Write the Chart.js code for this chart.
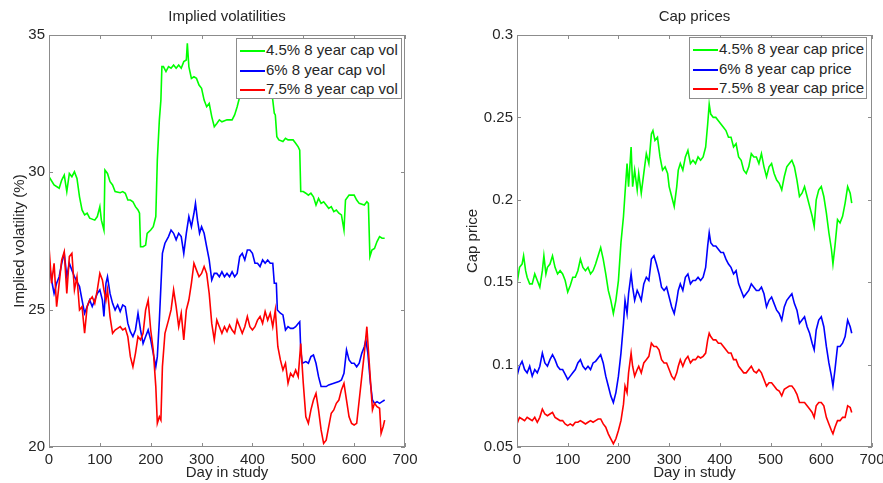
<!DOCTYPE html>
<html>
<head>
<meta charset="utf-8">
<title>Implied volatilities and cap prices</title>
<script src="https://cdn.jsdelivr.net/npm/chart.js@4.4.0/dist/chart.umd.min.js"></script>
<style>
    body { margin: 0; background: #fff; }
    #wrap { position: relative; width: 883px; height: 483px; overflow: hidden; font-family: 'Liberation Sans', Arial, sans-serif; }
    canvas { position: absolute; top: 0; }
    #volChart { left: 0; }
    #capChart { left: 440px; }
    .legend { position: absolute; box-sizing: border-box; background: #fff; border: 1px solid #8c8c8c; padding: 1px 0 0 3px; font-size: 15px; line-height: 19.5px; color: #262626; white-space: nowrap; }
    .legend .swatch { display: inline-block; width: 25px; height: 2px; vertical-align: middle; margin-right: 1px; }
</style>
</head>
<body>
<div id="wrap">
    <canvas id="volChart" width="440" height="483"></canvas>
    <canvas id="capChart" width="443" height="483"></canvas>
    <div class="legend" id="volLegend" style="left:236px; top:38px; width:166px; height:61px;"></div>
    <div class="legend" id="capLegend" style="left:689px; top:37px; width:178px; height:62px;"></div>
</div>
<script>
// Series labels and colours
const volLabels = ['4.5% 8 year cap vol', '6% 8 year cap vol', '7.5% 8 year cap vol'];
const capLabels = ['4.5% 8 year cap price', '6% 8 year cap price', '7.5% 8 year cap price'];
const seriesColors = ['#00ff00', '#0000ff', '#ff0000'];

// Axis ranges / ticks
const dayTicks = [0, 700, 100];       // min, max, step
const volTicks = [20, 35, 5];
const capTicks = [0.05, 0.3, 0.05];

// Left panel: implied volatilities (%)
const volDaysGreen = [
    0, 10, 20, 25, 30, 35, 40, 45, 50, 55,
    60, 65, 70, 75, 80, 90, 95, 100, 103, 108,
    110, 115, 120, 125, 130, 140, 145, 150, 155, 160,
    165, 170, 175, 178, 180, 185, 190, 193, 200, 205,
    210, 213, 217, 220, 222, 225, 230, 235, 240, 245,
    250, 255, 260, 265, 270, 272, 275, 280, 285, 290,
    295, 300, 305, 310, 315, 320, 325, 330, 335, 340,
    350, 360, 365, 370, 375, 380, 385, 390, 400, 410,
    420, 430, 435, 438, 440, 443, 445, 448, 452, 460,
    465, 470, 480, 485, 490, 493, 495, 500, 505, 510,
    515, 520, 525, 530, 535, 540, 545, 550, 555, 560,
    565, 570, 575, 580, 583, 590, 600, 605, 610, 620,
    625, 628, 631, 635, 640, 645, 650, 655, 660
];
const volGreen = [
    29.84, 29.54, 29.42, 29.72, 29.90, 29.30, 29.96, 29.84, 30.02, 29.78,
    29.11, 28.63, 28.45, 28.51, 28.33, 28.26, 28.39, 28.75, 28.26, 27.90,
    30.08, 29.96, 29.66, 29.54, 29.30, 29.26, 29.30, 29.24, 28.99, 28.99,
    28.93, 28.75, 28.63, 28.51, 27.29, 27.29, 27.35, 27.78, 27.90, 28.02,
    28.39, 30.45, 31.91, 32.63, 33.85, 33.85, 33.67, 33.85, 33.79, 33.91,
    33.79, 33.91, 33.79, 34.03, 34.09, 34.70, 33.85, 33.42, 33.48, 33.42,
    33.18, 33.06, 32.63, 32.39, 32.51, 32.03, 31.66, 31.78, 31.91, 31.84,
    31.91, 31.91, 32.09, 32.39, 32.75, 33.30, 33.80, 34.00, 34.20, 34.00,
    33.80, 33.50, 33.10, 32.82, 32.63, 32.15, 32.09, 31.30, 31.18, 31.12,
    31.24, 31.18, 31.18, 31.06, 30.93, 30.81, 29.30, 29.30, 29.24, 29.17,
    29.24, 29.11, 28.81, 29.05, 28.87, 28.93, 28.81, 28.69, 28.75, 28.57,
    28.63, 28.51, 28.45, 27.90, 28.99, 29.17, 29.17, 28.99, 28.87, 28.81,
    28.93, 28.87, 26.93, 27.17, 27.23, 27.48, 27.66, 27.60, 27.60
];

const volDaysBlue = [
    0, 5, 10, 15, 20, 25, 30, 35, 40, 45,
    50, 55, 60, 65, 70, 75, 80, 85, 90, 95,
    100, 105, 108, 112, 115, 120, 125, 130, 135, 140,
    145, 150, 155, 160, 165, 170, 175, 180, 185, 190,
    195, 200, 205, 210, 213, 217, 220, 223, 228, 235,
    240, 245, 250, 255, 260, 265, 270, 275, 280, 285,
    288, 292, 296, 300, 305, 310, 315, 320, 325, 330,
    335, 340, 345, 350, 355, 360, 365, 370, 375, 380,
    385, 390, 395, 400, 405, 410, 415, 420, 425, 430,
    435, 440, 443, 447, 449, 455, 460, 465, 470, 475,
    480, 485, 490, 493, 495, 498, 505, 510, 515, 520,
    525, 530, 535, 545, 550, 560, 570, 575, 580, 585,
    590, 595, 600, 605, 610, 615, 620, 623, 627, 632,
    636, 640, 645, 650, 655, 660
];
const volBlue = [
    26.81, 26.08, 25.59, 25.96, 26.20, 26.69, 27.05, 26.20, 26.69, 26.44,
    26.20, 26.02, 25.84, 25.35, 24.87, 25.11, 25.35, 25.11, 25.35, 25.59,
    25.72, 25.35, 24.75, 25.96, 26.20, 25.59, 25.23, 24.99, 25.17, 24.93,
    25.17, 25.11, 24.50, 24.20, 24.02, 24.26, 24.87, 24.26, 23.77, 24.02,
    24.26, 23.90, 23.41, 22.92, 23.29, 24.62, 25.84, 27.05, 27.42, 27.66,
    27.90, 27.78, 27.54, 27.78, 27.66, 27.05, 27.78, 28.39, 28.02, 28.51,
    28.87, 28.26, 27.78, 28.02, 27.78, 27.29, 26.81, 26.08, 26.32, 26.32,
    26.20, 26.38, 26.20, 26.32, 26.20, 26.38, 26.20, 26.32, 26.93, 27.05,
    26.81, 27.17, 27.17, 27.05, 26.69, 26.69, 26.57, 26.81, 26.69, 26.81,
    26.69, 26.69, 25.96, 25.96, 24.99, 24.87, 24.81, 24.26, 24.38, 24.32,
    24.32, 24.38, 24.50, 24.56, 23.53, 23.05, 23.11, 23.05, 23.29, 23.35,
    23.05, 22.56, 22.20, 22.20, 22.26, 22.32, 22.38, 22.44, 22.68, 23.53,
    23.17, 23.05, 23.05, 22.92, 23.05, 23.41, 23.65, 23.90, 23.41, 22.32,
    21.71, 21.59, 21.65, 21.59, 21.65, 21.71
];

const volDaysRed = [
    0, 5, 10, 15, 20, 25, 30, 35, 40, 45,
    50, 55, 60, 65, 70, 75, 80, 85, 90, 95,
    100, 105, 108, 112, 115, 120, 125, 130, 135, 140,
    145, 150, 155, 160, 165, 170, 175, 180, 185, 190,
    195, 200, 205, 210, 213, 217, 220, 223, 228, 235,
    240, 245, 250, 255, 260, 265, 270, 275, 280, 285,
    290, 295, 300, 305, 310, 315, 320, 325, 330, 335,
    340, 345, 350, 355, 360, 365, 370, 375, 380, 385,
    390, 395, 400, 405, 410, 415, 420, 425, 430, 435,
    440, 445, 450, 455, 460, 465, 470, 475, 480, 485,
    490, 495, 500, 505, 510, 515, 520, 525, 530, 535,
    540, 545, 550, 555, 560, 565, 570, 575, 580, 585,
    590, 595, 600, 605, 610, 615, 620, 625, 628, 632,
    636, 640, 645, 650, 653, 657, 660
];
const volRed = [
    27.29, 25.96, 26.69, 25.11, 25.96, 26.81, 27.11, 25.59, 26.93, 27.05,
    25.72, 26.20, 24.99, 25.11, 24.14, 25.11, 25.35, 25.47, 25.23, 25.72,
    26.32, 26.08, 25.72, 25.35, 25.72, 24.75, 24.14, 24.26, 24.32, 24.38,
    24.26, 24.32, 24.02, 23.29, 22.92, 23.41, 24.02, 23.90, 24.14, 24.99,
    25.35, 24.26, 23.53, 22.20, 20.86, 21.10, 20.98, 22.92, 24.14, 24.62,
    24.99, 25.72, 25.11, 24.38, 24.87, 23.90, 24.99, 25.35, 25.96, 26.69,
    26.44, 26.20, 26.32, 26.57, 26.32, 25.59, 24.50, 23.90, 24.62, 24.38,
    24.14, 24.38, 24.20, 24.44, 24.26, 24.14, 24.62, 24.38, 24.14, 24.38,
    24.75, 24.38, 24.26, 24.38, 24.62, 24.75, 24.50, 24.93, 24.62, 24.87,
    24.38, 24.99, 23.65, 23.17, 22.80, 23.05, 22.32, 22.68, 22.56, 22.80,
    22.56, 23.77, 22.32, 21.10, 20.86, 21.35, 21.71, 21.95, 21.35, 20.62,
    20.13, 20.25, 20.74, 21.23, 21.35, 21.59, 21.71, 22.08, 22.32, 21.71,
    21.10, 20.86, 20.80, 20.86, 21.71, 22.56, 23.41, 24.38, 23.53, 22.44,
    21.35, 21.59, 21.47, 21.41, 20.50, 20.74, 20.98
];

// Right panel: cap prices
const capDaysGreen = [
    0, 5, 10, 13, 17, 20, 25, 30, 35, 40,
    45, 50, 53, 57, 60, 65, 70, 75, 80, 85,
    90, 95, 100, 105, 110, 115, 120, 125, 130, 135,
    140, 145, 150, 155, 160, 165, 170, 175, 180, 185,
    190, 195, 200, 205, 210, 213, 217, 220, 225, 228,
    232, 237, 240, 245, 250, 255, 260, 265, 268, 272,
    277, 282, 287, 292, 297, 300, 305, 310, 315, 318,
    322, 327, 332, 337, 342, 347, 352, 357, 362, 367,
    372, 376, 379, 382, 387, 392, 397, 402, 407, 412,
    417, 422, 427, 432, 437, 442, 447, 452, 457, 462,
    467, 472, 477, 482, 487, 492, 497, 502, 507, 512,
    517, 522, 527, 532, 537, 542, 547, 552, 557, 562,
    567, 572, 577, 582, 586, 590, 595, 600, 605, 610,
    615, 620, 623, 627, 632, 637, 642, 647, 652, 657,
    660
];
const capGreen = [
    0.149, 0.159, 0.161, 0.166, 0.157, 0.153, 0.149, 0.149, 0.155, 0.151,
    0.147, 0.157, 0.166, 0.155, 0.159, 0.161, 0.166, 0.159, 0.155, 0.157,
    0.155, 0.151, 0.144, 0.148, 0.153, 0.153, 0.157, 0.164, 0.159, 0.157,
    0.159, 0.155, 0.157, 0.161, 0.166, 0.171, 0.164, 0.155, 0.145, 0.139,
    0.131, 0.139, 0.151, 0.174, 0.190, 0.204, 0.222, 0.208, 0.232, 0.208,
    0.218, 0.206, 0.216, 0.204, 0.216, 0.228, 0.222, 0.240, 0.242, 0.236,
    0.238, 0.226, 0.218, 0.220, 0.216, 0.208, 0.202, 0.196, 0.208, 0.218,
    0.222, 0.218, 0.226, 0.230, 0.222, 0.224, 0.222, 0.226, 0.224, 0.226,
    0.232, 0.246, 0.258, 0.252, 0.250, 0.250, 0.248, 0.246, 0.244, 0.242,
    0.238, 0.238, 0.232, 0.234, 0.226, 0.224, 0.218, 0.216, 0.220, 0.228,
    0.226, 0.226, 0.222, 0.228, 0.220, 0.214, 0.220, 0.222, 0.216, 0.212,
    0.210, 0.206, 0.214, 0.220, 0.222, 0.224, 0.220, 0.212, 0.202, 0.204,
    0.208, 0.202, 0.196, 0.190, 0.184, 0.200, 0.206, 0.208, 0.202, 0.192,
    0.180, 0.170, 0.161, 0.172, 0.188, 0.186, 0.190, 0.198, 0.208, 0.204,
    0.198
];

const capDays = [
    0, 5, 10, 15, 20, 25, 30, 35, 40, 45,
    50, 55, 60, 65, 70, 75, 80, 85, 90, 95,
    100, 105, 110, 115, 120, 125, 130, 135, 140, 145,
    150, 155, 160, 165, 170, 175, 180, 185, 190, 195,
    200, 205, 210, 213, 217, 220, 225, 228, 232, 237,
    240, 245, 250, 255, 260, 265, 270, 275, 280, 285,
    290, 295, 300, 305, 310, 315, 318, 322, 327, 332,
    337, 342, 347, 352, 357, 362, 367, 372, 376, 379,
    382, 387, 392, 397, 402, 407, 412, 417, 422, 427,
    432, 437, 442, 447, 452, 457, 462, 467, 472, 477,
    482, 487, 492, 497, 502, 507, 512, 517, 522, 527,
    532, 537, 542, 547, 552, 557, 562, 567, 572, 577,
    582, 586, 590, 595, 600, 605, 610, 615, 620, 623,
    627, 632, 637, 642, 647, 652, 657, 660
];
const capBlue = [
    0.093, 0.099, 0.102, 0.097, 0.095, 0.099, 0.093, 0.097, 0.095, 0.099,
    0.107, 0.101, 0.099, 0.103, 0.106, 0.103, 0.099, 0.097, 0.097, 0.094,
    0.091, 0.093, 0.095, 0.097, 0.101, 0.103, 0.099, 0.097, 0.099, 0.097,
    0.101, 0.102, 0.104, 0.106, 0.101, 0.093, 0.087, 0.081, 0.077, 0.083,
    0.093, 0.107, 0.125, 0.139, 0.131, 0.143, 0.155, 0.147, 0.139, 0.145,
    0.143, 0.139, 0.149, 0.153, 0.151, 0.164, 0.166, 0.161, 0.155, 0.147,
    0.145, 0.147, 0.141, 0.135, 0.131, 0.139, 0.145, 0.149, 0.145, 0.153,
    0.155, 0.149, 0.151, 0.151, 0.153, 0.151, 0.153, 0.159, 0.172, 0.180,
    0.174, 0.172, 0.172, 0.170, 0.168, 0.168, 0.164, 0.161, 0.159, 0.155,
    0.157, 0.149, 0.145, 0.141, 0.143, 0.145, 0.149, 0.147, 0.145, 0.145,
    0.147, 0.143, 0.135, 0.139, 0.141, 0.137, 0.133, 0.131, 0.127, 0.135,
    0.139, 0.141, 0.143, 0.137, 0.133, 0.125, 0.127, 0.129, 0.123, 0.119,
    0.113, 0.109, 0.121, 0.127, 0.129, 0.123, 0.111, 0.101, 0.093, 0.087,
    0.097, 0.111, 0.111, 0.113, 0.117, 0.127, 0.123, 0.119
];
const capRed = [
    0.064, 0.068, 0.067, 0.066, 0.068, 0.067, 0.066, 0.068, 0.065, 0.068,
    0.073, 0.070, 0.069, 0.070, 0.071, 0.068, 0.067, 0.066, 0.066, 0.064,
    0.063, 0.064, 0.063, 0.065, 0.065, 0.066, 0.065, 0.064, 0.065, 0.066,
    0.065, 0.066, 0.067, 0.067, 0.064, 0.062, 0.058, 0.055, 0.052, 0.055,
    0.060, 0.066, 0.076, 0.087, 0.083, 0.095, 0.107, 0.099, 0.093, 0.097,
    0.099, 0.095, 0.101, 0.103, 0.105, 0.113, 0.111, 0.111, 0.109, 0.103,
    0.101, 0.101, 0.097, 0.093, 0.091, 0.095, 0.099, 0.103, 0.099, 0.103,
    0.105, 0.101, 0.103, 0.103, 0.105, 0.104, 0.105, 0.107, 0.115, 0.119,
    0.117, 0.115, 0.115, 0.113, 0.113, 0.111, 0.109, 0.107, 0.107, 0.103,
    0.103, 0.099, 0.097, 0.095, 0.095, 0.097, 0.099, 0.096, 0.095, 0.097,
    0.095, 0.091, 0.087, 0.089, 0.089, 0.087, 0.085, 0.084, 0.081, 0.085,
    0.086, 0.087, 0.087, 0.085, 0.082, 0.077, 0.077, 0.077, 0.075, 0.073,
    0.071, 0.068, 0.075, 0.077, 0.077, 0.075, 0.068, 0.064, 0.060, 0.058,
    0.062, 0.066, 0.066, 0.068, 0.068, 0.075, 0.074, 0.071
];

Chart.defaults.font.family = "'Liberation Sans', Arial, sans-serif";
Chart.defaults.font.size = 15;
Chart.defaults.color = '#262626';

// MATLAB style box round the plot area, with tick marks pointing inwards
const axesBox = {
    id: 'axesBox',
    afterDraw(chart) {
        const { ctx, chartArea: a, scales: { x, y } } = chart;
        const len = 4;
        ctx.save();
        ctx.strokeStyle = '#8c8c8c';
        ctx.lineWidth = 1;
        ctx.strokeRect(Math.round(a.left) + 0.5, Math.round(a.top) + 0.5,
            Math.round(a.right - a.left) - 1, Math.round(a.bottom - a.top) - 1);
        ctx.beginPath();
        x.ticks.forEach(t => {
            const px = Math.round(x.getPixelForValue(t.value)) + 0.5;
            ctx.moveTo(px, a.bottom); ctx.lineTo(px, a.bottom - len);
            ctx.moveTo(px, a.top); ctx.lineTo(px, a.top + len);
        });
        y.ticks.forEach(t => {
            const py = Math.round(y.getPixelForValue(t.value)) + 0.5;
            ctx.moveTo(a.left, py); ctx.lineTo(a.left + len, py);
            ctx.moveTo(a.right, py); ctx.lineTo(a.right - len, py);
        });
        ctx.stroke();
        ctx.restore();
    }
};

function toPoints(days, values) {
    return days.map((d, i) => ({ x: d, y: values[i] }));
}

function makeDatasets(labels, series) {
    // red is drawn last, on top, as in the original figure
    return series.map((s, i) => ({
        label: labels[i],
        data: toPoints(s[0], s[1]),
        borderColor: seriesColors[i],
        borderWidth: 1.6,
        pointRadius: 0,
        tension: 0,
        fill: false,
        order: series.length - 1 - i
    }));
}

function makePanel(canvasId, cfg) {
    const ctx = document.getElementById(canvasId).getContext('2d');
    return new Chart(ctx, {
        type: 'line',
        data: { datasets: makeDatasets(cfg.labels, cfg.series) },
        options: {
            responsive: false,
            animation: false,
            devicePixelRatio: 1,
            layout: { padding: { top: 0, left: 0, bottom: 0, right: cfg.padRight } },
            plugins: {
                legend: { display: false },
                tooltip: { enabled: false },
                title: {
                    display: true,
                    text: cfg.title,
                    fullSize: false,
                    font: { size: 15, weight: 'normal' },
                    padding: { top: 8, bottom: 9 }
                }
            },
            scales: {
                x: {
                    type: 'linear',
                    min: dayTicks[0],
                    max: dayTicks[1],
                    ticks: { stepSize: dayTicks[2], padding: 4, maxRotation: 0 },
                    grid: { display: false, drawTicks: false },
                    border: { display: false },
                    title: { display: true, text: 'Day in study', padding: { top: 0, bottom: 1 } },
                    afterFit(scale) {
                        scale.height = 36;
                        scale.paddingRight = 0;
                    }
                },
                y: {
                    type: 'linear',
                    min: cfg.yTicks[0],
                    max: cfg.yTicks[1],
                    ticks: {
                        stepSize: cfg.yTicks[2],
                        padding: 4,
                        callback: v => String(+v.toFixed(2))
                    },
                    grid: { display: false, drawTicks: false },
                    border: { display: false },
                    title: { display: true, text: cfg.yTitle, padding: { top: cfg.yTitlePad, bottom: 0 } },
                    afterFit(scale) {
                        scale.width = cfg.yWidth;
                    }
                }
            }
        },
        plugins: [axesBox]
    });
}

function buildLegend(id, labels) {
    const box = document.getElementById(id);
    labels.forEach((label, i) => {
        const row = document.createElement('div');
        row.innerHTML = `<span class="swatch" style="background:${seriesColors[i]}"></span>${label}`;
        box.appendChild(row);
    });
}

makePanel('volChart', {
    title: 'Implied volatilities',
    yTitle: 'Implied volatility (%)',
    yTicks: volTicks,
    yWidth: 49,
    yTitlePad: 11,
    padRight: 35,
    labels: volLabels,
    series: [[volDaysGreen, volGreen], [volDaysBlue, volBlue], [volDaysRed, volRed]]
});

makePanel('capChart', {
    title: 'Cap prices',
    yTitle: 'Cap price',
    yTicks: capTicks,
    yWidth: 77,
    yTitlePad: 24,
    padRight: 11,
    labels: capLabels,
    series: [[capDaysGreen, capGreen], [capDays, capBlue], [capDays, capRed]]
});

buildLegend('volLegend', volLabels);
buildLegend('capLegend', capLabels);
</script>
</body>
</html>
